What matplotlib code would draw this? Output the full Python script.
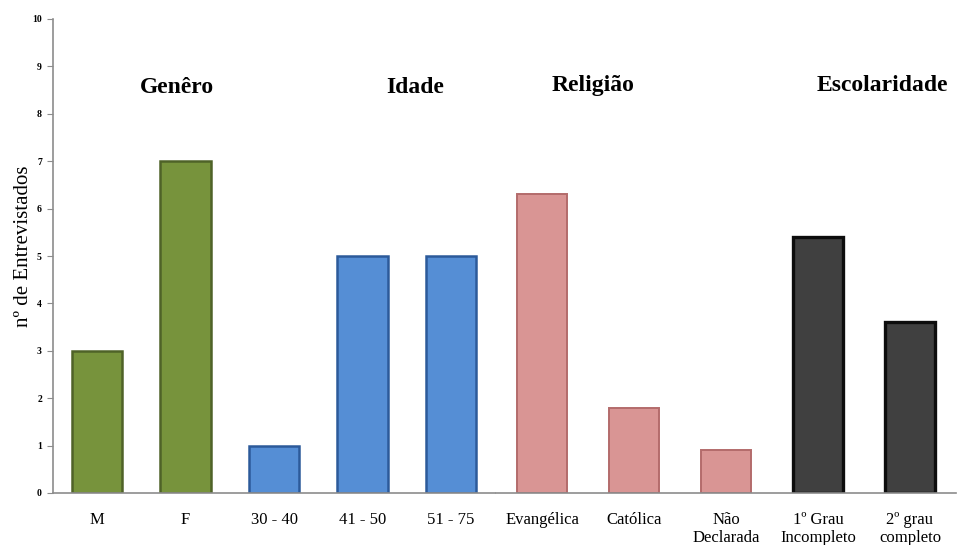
import matplotlib
matplotlib.use("Agg")
import matplotlib.pyplot as plt

# Survey profile: number of interviewees per category
genero_labels = ["M", "F"]
genero_values = [3, 7]
idade_labels = ["30 - 40", "41 - 50", "51 - 75"]
idade_values = [1, 5, 5]
religiao_labels = ["Evangélica", "Católica", "Não\nDeclarada"]
religiao_values = [6.3, 1.8, 0.9]
escolaridade_labels = ["1º Grau\nIncompleto", "2º grau\ncompleto"]
escolaridade_values = [5.4, 3.6]

group_titles = ["Genêro", "Idade", "Religião", "Escolaridade"]

plt.rcParams["font.family"] = ["Liberation Serif", "DejaVu Serif"]

fig = plt.figure(figsize=(9.65, 5.45), dpi=100)
ax_left = fig.add_axes([53 / 965, 1 - 493 / 545, (495 - 53) / 965, (493 - 19) / 545])
ax_right = fig.add_axes([496 / 965, 1 - 493 / 545, (956 - 496) / 965, (493 - 19) / 545])

axis_grey = "#8c8c8c"


def style(ax, show_y):
    ax.set_ylim(0, 10)
    for s in ("top", "right"):
        ax.spines[s].set_visible(False)
    ax.spines["bottom"].set_color(axis_grey)
    ax.spines["bottom"].set_linewidth(1.2)
    if show_y:
        ax.spines["left"].set_color(axis_grey)
        ax.spines["left"].set_linewidth(1.2)
        ax.set_yticks(range(0, 11))
        ax.tick_params(axis="y", length=4, color=axis_grey, labelsize=7, pad=4)
        for t in ax.get_yticklabels():
            t.set_fontweight("bold")
    else:
        ax.spines["left"].set_visible(False)
        ax.set_yticks([])
    ax.tick_params(axis="x", length=0, labelsize=12, pad=14)


# Left panel: gender and age
left_labels = genero_labels + idade_labels
left_values = genero_values + idade_values
left_face = ["#77933c"] * len(genero_values) + ["#558ed5"] * len(idade_values)
left_edge = ["#4f6228"] * len(genero_values) + ["#2c5a9a"] * len(idade_values)
xl = list(range(len(left_labels)))
ax_left.bar(xl, left_values, width=0.57, color=left_face, edgecolor=left_edge, linewidth=1.8)
ax_left.set_xlim(-0.5, len(left_labels) - 0.5)
ax_left.set_xticks(xl)
ax_left.set_xticklabels(left_labels)
style(ax_left, True)
ax_left.set_ylabel("nº de Entrevistados", fontsize=15)
ax_left.yaxis.set_label_coords(-0.045, 0.52)

# Right panel: religion and schooling
right_labels = religiao_labels + escolaridade_labels
right_values = religiao_values + escolaridade_values
right_face = ["#d99594"] * len(religiao_values) + ["#404040"] * len(escolaridade_values)
right_edge = ["#b36b6b"] * len(religiao_values) + ["#0d0d0d"] * len(escolaridade_values)
right_lw = [1.4] * len(religiao_values) + [2.4] * len(escolaridade_values)
xr = list(range(len(right_labels)))
ax_right.bar(xr, right_values, width=0.55, color=right_face, edgecolor=right_edge, linewidth=right_lw)
ax_right.set_xlim(-0.5, len(right_labels) - 0.5)
ax_right.set_xticks(xr)
ax_right.set_xticklabels(right_labels, linespacing=1.15)
style(ax_right, False)

# Group headings
title_kw = dict(fontsize=17, fontweight="bold", ha="center", va="center")
ax_left.text(0.9, 8.55, group_titles[0], **title_kw)
ax_left.text(3.6, 8.55, group_titles[1], **title_kw)
ax_right.text(0.55, 8.6, group_titles[2], **title_kw)
ax_right.text(3.7, 8.6, group_titles[3], **title_kw)

fig.savefig("out.png", dpi=100)
